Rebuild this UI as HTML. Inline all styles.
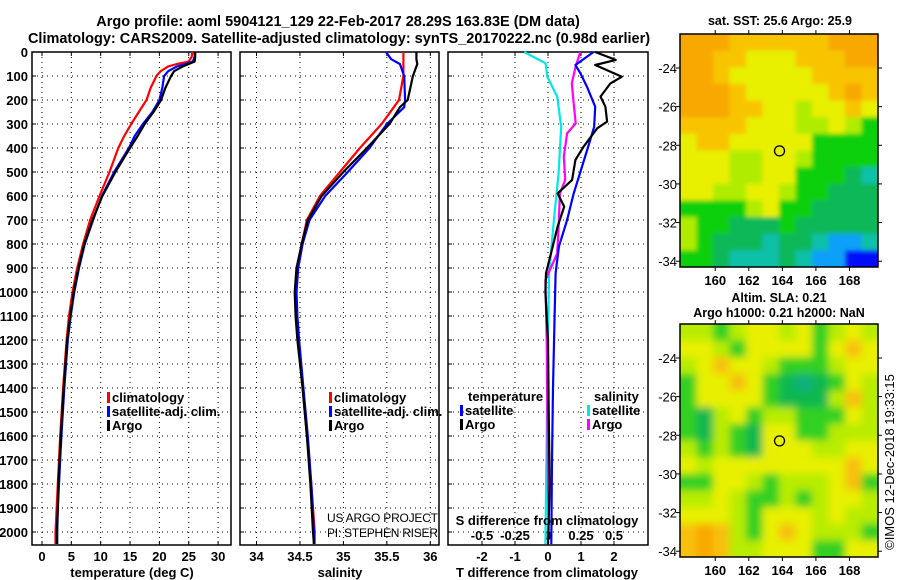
<!DOCTYPE html>
<html><head><meta charset="utf-8"><style>
body{margin:0;background:#fff;}
svg{display:block;font-family:"Liberation Sans",sans-serif;font-weight:bold;}
</style></head><body>
<svg id="c" width="900" height="580" viewBox="0 0 900 580" xmlns="http://www.w3.org/2000/svg">
<defs>
<filter id="blurS" x="-5%" y="-5%" width="110%" height="110%"><feGaussianBlur stdDeviation="2"/></filter>
<filter id="blurL" x="-5%" y="-5%" width="110%" height="110%"><feGaussianBlur stdDeviation="4"/></filter>
<clipPath id="clipA"><rect x="680" y="34" width="198" height="233"/></clipPath>
<clipPath id="clipB"><rect x="680" y="324" width="198" height="233"/></clipPath>
</defs>
<text x="338" y="26" font-size="14.5" text-anchor="middle">Argo profile: aoml 5904121_129 22-Feb-2017 28.29S 163.83E (DM data)</text>
<text x="339" y="43" font-size="14.5" text-anchor="middle">Climatology: CARS2009. Satellite-adjusted climatology: synTS_20170222.nc (0.98d earlier)</text>
<g id="g"></g>
</svg>
<script>
const depths = [0,20,40,50,60,80,100,150,200,250,300,350,400,500,600,700,800,900,1000,1100,1200,1400,1600,1800,2000,2050];
const tempArgo = [26.1,26.1,26.0,25,24,22.5,22,21,20.3,19,17.5,16.3,15,12.5,10.3,8.6,7.2,6.2,5.4,4.8,4.3,3.7,3.2,2.8,2.6,2.6];
const tempClim = [25.6,25.5,25.0,23,21.5,20.2,19.5,18.5,17.8,16.5,15.2,14,13,11.5,9.8,8.2,7,6,5.2,4.6,4.2,3.6,3.1,2.7,2.3,2.3];
const tempSat = [26.0,26,25.7,24.5,23,21.5,20.8,20.5,20,18.8,17.2,15.8,14.8,12.3,10.2,8.7,7.3,6.3,5.5,4.9,4.4,3.8,3.3,2.9,2.5,2.5];
const salDepths = [0,30,50,100,200,230,300,400,500,600,700,800,900,1000,1100,1200,1400,1600,1800,2000,2050];
const salArgo = [35.84,35.84,35.85,35.80,35.74,35.65,35.53,35.27,35.0,34.75,34.59,34.52,34.46,34.44,34.45,34.47,34.53,34.58,34.62,34.65,34.66];
const salClim = [35.69,35.69,35.69,35.69,35.64,35.58,35.44,35.19,34.96,34.73,34.58,34.52,34.47,34.45,34.46,34.48,34.53,34.58,34.63,34.67,34.67];
const salSat = [35.49,35.55,35.65,35.70,35.71,35.70,35.50,35.30,35.05,34.79,34.61,34.53,34.48,34.46,34.47,34.49,34.54,34.59,34.63,34.66,34.66];
const dTDepthsArgo = [0,33,54,103,131,186,228,290,318,394,450,533,589,644,728,839,922,1000,1200,1500,1800,2050];
const dTArgo = [1.43,2.05,1.43,2.24,1.89,1.59,1.74,1.79,1.49,1.08,0.83,0.73,0.29,0.49,0.29,0.09,-0.06,-0.08,0.0,0.02,0.05,0.0];
const dTDepthsSat = [0,54,88,144,228,311,367,478,589,700,811,922,1100,1400,1700,2050];
const dTSat = [1.38,0.83,0.98,1.18,1.43,1.4,1.28,1.03,0.78,0.58,0.33,0.23,0.2,0.15,0.12,0.1];
const dSDepthsSat = [0,47,103,186,311,506,700,922,1200,1600,2050];
const dSSat = [-0.18,-0.018,-0.005,0.07,0.10,0.08,0.045,0.008,0.0,-0.01,-0.02];
const dSDepthsArgo = [0,59,131,214,297,339,436,533,589,728,839,950,1200,1500,1800,2000];
const dSArgo = [0.245,0.21,0.18,0.195,0.21,0.145,0.12,0.13,0.09,0.08,0.07,-0.02,-0.01,-0.005,0.0,0.005];
const sstGrid = [
[0,0,0,1,1,1,1,1,1,0,0,0],[0,0,1,1,2,2,2,1,1,1,0,0],[0,0,1,2,2,2,2,2,1,1,1,1],
[0,0,0,1,2,2,2,2,2,1,0,1],[0,0,0,1,1,2,2,3,2,2,1,2],[1,1,1,1,2,2,2,3,3,2,3,4],
[2,1,1,2,2,2,2,2,4,4,4,4],[2,2,2,3,3,2,2,3,4,4,4,4],[2,2,2,3,3,2,2,4,4,4,5,6],
[2,2,3,3,2,2,3,4,4,5,5,5],[4,4,4,4,3,2,4,4,5,5,5,5],[3,4,4,5,5,5,4,5,5,5,5,5],
[3,4,5,5,5,6,5,5,6,7,7,6],[4,4,5,6,6,6,5,6,7,7,8,8]];
const slaGrid = [
[3,3,4,3,2,2,3,2,4,3,2,3],[2,2,3,4,2,2,2,2,4,2,1,2],[3,2,1,2,2,3,4,4,4,3,2,2],
[4,2,2,1,2,4,5,6,5,4,2,3],[4,2,2,2,2,4,5,5,5,3,1,3],[4,5,3,2,4,3,3,4,4,4,2,3],
[4,5,3,4,5,2,2,4,4,3,3,3],[3,4,3,4,5,2,2,2,3,3,2,2],[2,3,2,2,2,2,2,2,2,2,1,2],
[4,4,2,2,3,4,3,3,3,2,1,4],[3,3,2,3,4,4,3,4,3,2,2,3],[2,2,2,3,4,2,2,2,3,2,3,3],
[1,0,1,3,4,2,1,2,3,3,3,4],[1,0,1,3,3,2,2,2,4,4,2,2]];
const tTicks = [0,5,10,15,20,25,30];
const sTicks = [34,34.5,35,35.5,36];
const dTTicks = [-2,-1,0,1,2];
const dSTicks = [-0.5,-0.25,0,0.25,0.5];
const dSTickLabels = ['-0.5','-0.25','0','0.25','0.5'];
const depthTicks = [0,100,200,300,400,500,600,700,800,900,1000,1100,1200,1300,1400,1500,1600,1700,1800,1900,2000];
const lonTicks = [160,162,164,166,168];
const latTicks = [-24,-26,-28,-30,-32,-34];
const argoLon = 163.83, argoLat = -28.29;

const NS='http://www.w3.org/2000/svg';
const G=document.getElementById('g');
function mk(tag,attrs,parent){const e=document.createElementNS(NS,tag);for(const k in attrs)e.setAttribute(k,attrs[k]);(parent||G).appendChild(e);return e;}
const Y=d=>52+d*0.24;
const PB=545;
const panels=[
 {x0:32,x1:231,v0:-1.7,v1:32.2,name:'temperature'},
 {x0:240,x1:439,v0:33.81,v1:36.1,name:'salinity'},
 {x0:448,x1:648,v0:-3.03,v1:3.03,name:'difference'}];
function X(p,v){return p.x0+(v-p.v0)/(p.v1-p.v0)*(p.x1-p.x0);}
const P1=panels[0],P2=panels[1],P3=panels[2];
const XS=v=>X(P3,v*4);
panels.forEach((p,i)=>{
  const fr=mk('rect',{x:p.x0,y:52,width:p.x1-p.x0,height:PB-52,fill:'none',stroke:'#000','stroke-width':1.5});
  
  
  depthTicks.forEach(d=>{if(d===0)return;
    const l=mk('line',{x1:p.x0,x2:p.x1,y1:Y(d),y2:Y(d),stroke:'#000','stroke-dasharray':'1,4','stroke-width':1});
    
    
  });
});
function vgrid(p,ticks,fx,labels,name){
  ticks.forEach((t,i)=>{const x=fx(t);
    const l=mk('line',{x1:x,x2:x,y1:52,y2:PB,stroke:'#000','stroke-dasharray':'1,4','stroke-width':1});
    
    
    const tk=mk('line',{x1:x,x2:x,y1:PB,y2:PB-4,stroke:'#000'});
    
    
    const tk2=mk('line',{x1:x,x2:x,y1:52,y2:56,stroke:'#000'});
    
    
    const tx=mk('text',{x:x,y:561,'font-size':13,'text-anchor':'middle'});tx.textContent=labels?labels[i]:String(t);
    
    
  });
}
vgrid(P1,tTicks,v=>X(P1,v),null,'temperature-x');
vgrid(P2,sTicks,v=>X(P2,v),null,'salinity-x');
vgrid(P3,dTTicks,v=>X(P3,v),null,'t-diff-x');
dSTicks.forEach((t,i)=>{
  const tx=mk('text',{x:XS(t),y:540,'font-size':13,'text-anchor':'middle'});tx.textContent=dSTickLabels[i];
  
  
});
depthTicks.forEach(d=>{
  const tx=mk('text',{x:28,y:Y(d)+5,'font-size':13,'text-anchor':'end'});tx.textContent=String(d);
  
  
  [P1,P2,P3].forEach(p=>{
    const a=mk('line',{x1:p.x0,x2:p.x0+4,y1:Y(d),y2:Y(d),stroke:'#000'});
    
    
  });
});
function line(ds,vs,fx,color,name){
  let pts=[];ds.forEach((d,i)=>pts.push(fx(vs[i]).toFixed(1)+','+Y(d).toFixed(1)));
  const l=mk('polyline',{points:pts.join(' '),fill:'none',stroke:color,'stroke-width':2.2,'stroke-linejoin':'round'});
  
  
}
line(depths,tempClim,v=>X(P1,v),'#ff0000','temperature-climatology-line');
line(depths,tempSat,v=>X(P1,v),'#0000ff','temperature-satellite-line');
line(depths,tempArgo,v=>X(P1,v),'#000','temperature-argo-line');
line(salDepths,salClim,v=>X(P2,v),'#ff0000','salinity-climatology-line');
line(salDepths,salSat,v=>X(P2,v),'#0000ff','salinity-satellite-line');
line(salDepths,salArgo,v=>X(P2,v),'#000','salinity-argo-line');
line(dSDepthsSat,dSSat,XS,'#00e8e8','s-diff-satellite-line');
line(dSDepthsArgo,dSArgo,XS,'#ff00ff','s-diff-argo-line');
line(dTDepthsSat,dTSat,v=>X(P3,v),'#0000ff','t-diff-satellite-line');
line(dTDepthsArgo,dTArgo,v=>X(P3,v),'#000','t-diff-argo-line');
function txt(x,y,s,name,size,anchor,weight){const t=mk('text',{x:x,y:y,'font-size':size||13,'text-anchor':anchor||'start'});if(weight)t.setAttribute('font-weight',weight);t.textContent=s;
  
  return t;}
function leg(x,y,color,label,name){
  const r=mk('rect',{x:x,y:y-10,width:3,height:11,fill:color});
  
  
  txt(x+5,y,label,name+'-label');
}
leg(107,402,'#ff0000','climatology','legend-climatology');
leg(107,416,'#0000ff','satellite-adj. clim.','legend-satellite');
leg(107,430,'#000','Argo','legend-argo');
leg(329,402,'#ff0000','climatology','legend2-climatology');
leg(329,416,'#0000ff','satellite-adj. clim.','legend2-satellite');
leg(329,430,'#000','Argo','legend2-argo');
txt(468,401,'temperature','legend3-temperature-heading');
leg(460,415,'#0000ff','satellite','legend3-temp-satellite');
leg(460,429,'#000','Argo','legend3-temp-argo');
txt(594,401,'salinity','legend3-salinity-heading');
leg(587,415,'#00e8e8','satellite','legend3-sal-satellite');
leg(587,429,'#ff00ff','Argo','legend3-sal-argo');
const pc=txt(327,522,'US ARGO PROJECT','project-credit',12,'start','normal');
pc.setAttribute('textLength','111');
const pi=txt(327,537,'PI: STEPHEN RISER','pi-credit',12,'start','normal');
pi.setAttribute('textLength','111');
txt(547,525,'S difference from climatology','s-diff-axis-title',13,'middle');
txt(132,577,'temperature (deg C)','temperature-axis-title',13,'middle');
txt(340,577,'salinity','salinity-axis-title',13,'middle');
txt(547,577,'T difference from climatology','t-diff-axis-title',13,'middle');
const sstColors=['#f8a800','#f8c400','#e8f000','#b0ec00','#10d010','#10b858','#10c0a8','#10a0f8','#0010f8'];
const slaColors=['#f8a800','#f8c010','#e8f000','#b8ec00','#30d020','#10b850','#10b080'];
const LON0=157.9,LON1=169.7,LAT0=-22.24,LAT1=-34.3;
function map(y0,grid,colors,name,filt,clip){
  const mx0=680,mx1=878,my0=y0,my1=y0+233;
  const MX=l=>mx0+(l-LON0)/(LON1-LON0)*(mx1-mx0);
  const MY=l=>my0+(l-LAT0)/(LAT1-LAT0)*(my1-my0);
  const outer=mk('g',{'clip-path':'url(#'+clip+')'});
  
  
  const cg=mk('g',{filter:'url(#'+filt+')'},outer);
  const rows=grid.length,cols=grid[0].length,cw=(mx1-mx0)/cols,ch=(my1-my0)/rows;
  grid.forEach((row,r)=>row.forEach((v,c)=>{
    let x=mx0+c*cw,y=my0+r*ch,w=cw+0.5,h=ch+0.5;
    if(c===0){x-=15;w+=15;} if(c===cols-1){w+=15;}
    if(r===0){y-=15;h+=15;} if(r===rows-1){h+=15;}
    const e=mk('rect',{x:x,y:y,width:w,height:h,fill:colors[v]},cg);
    
    
  }));
  const f=mk('rect',{x:mx0,y:my0,width:mx1-mx0,height:my1-my0,fill:'none',stroke:'#000','stroke-width':1.5});
  
  
  lonTicks.forEach(l=>{
    const t=mk('line',{x1:MX(l),x2:MX(l),y1:my1,y2:my1+4,stroke:'#000'});
    
    
    const t2=mk('line',{x1:MX(l),x2:MX(l),y1:my0,y2:my0-4,stroke:'#000'});
    
    
    txt(MX(l),my1+18,String(l),name+'-lon-label',13,'middle');
  });
  latTicks.forEach(l=>{
    const t=mk('line',{x1:mx0-4,x2:mx0,y1:MY(l),y2:MY(l),stroke:'#000'});
    
    
    const t2=mk('line',{x1:mx1,x2:mx1+4,y1:MY(l),y2:MY(l),stroke:'#000'});
    
    
    txt(mx0-3,MY(l)+5,String(l),name+'-lat-label',13,'end','normal');
  });
  const c=mk('circle',{cx:MX(argoLon),cy:MY(argoLat),r:5,fill:'none',stroke:'#000','stroke-width':1.3});
  
  
}
map(34,sstGrid,sstColors,'sst-map','blurS','clipA');
map(324,slaGrid,slaColors,'sla-map','blurL','clipB');
txt(780,25,'sat. SST: 25.6 Argo: 25.9','sst-map-title',12.5,'middle');
txt(779,302,'Altim. SLA: 0.21','sla-map-title',12.5,'middle');
txt(779,317,'Argo h1000: 0.21 h2000: NaN','sla-map-subtitle',12.5,'middle');
const cr=txt(0,0,'©IMOS 12-Dec-2018 19:33:15','imos-credit',13,'middle','normal');
cr.setAttribute('transform','translate(894,462) rotate(-90)');
</script>
</body></html>
